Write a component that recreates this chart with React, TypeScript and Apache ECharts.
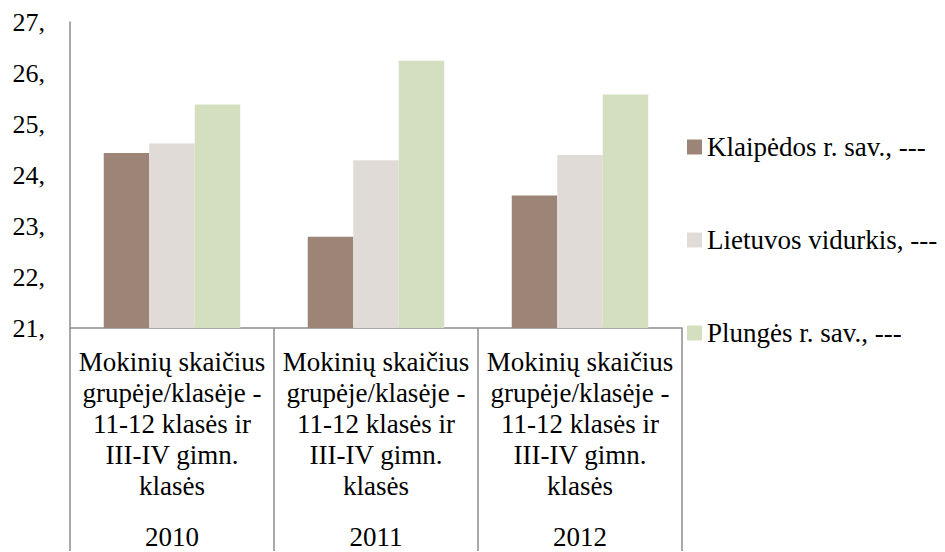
import React, { useEffect, useRef } from "react";
import * as echarts from "echarts";

const categories = ["2010", "2011", "2012"];
const categoryText = "Mokinių skaičius\ngrupėje/klasėje -\n11-12 klasės ir\nIII-IV gimn.\nklasės";
const seriesNames = ["Klaipėdos r. sav., ---", "Lietuvos vidurkis, ---", "Plungės r. sav., ---"];
const klaipeda = [24.43, 22.79, 23.6];
const lietuva = [24.62, 24.29, 24.39];
const plunge = [25.38, 26.24, 25.58];
const colors = ["#9c8577", "#e0dbd7", "#d4dfbf"];
const yMin = 21;
const yMax = 27;

const FONT = "'Liberation Serif', serif";
const AXIS = "#8c8c8c";

export default function App() {
  const ref = useRef<HTMLDivElement>(null);
  useEffect(() => {
    if (!ref.current) return;
    const chart = echarts.init(ref.current, undefined, { renderer: "svg" });
    const values = [klaipeda, lietuva, plunge];
    chart.setOption({
      animation: false,
      backgroundColor: "#ffffff",
      textStyle: { fontFamily: FONT },
      grid: { left: 70, right: 263, top: 22, bottom: 223 },
      legend: {
        orient: "vertical",
        left: 687,
        top: 132,
        padding: 0,
        itemWidth: 15,
        itemHeight: 15,
        itemGap: 63,
        icon: "rect",
        textStyle: { fontFamily: FONT, fontSize: 27, lineHeight: 30, color: "#000" },
        data: seriesNames,
      },
      xAxis: [
        {
          type: "category",
          data: categories,
          position: "bottom",
          axisLine: { show: true, lineStyle: { color: AXIS, width: 1.5 } },
          axisTick: { show: true, interval: 0, length: 223, lineStyle: { color: AXIS, width: 1.5 } },
          axisLabel: {
            interval: 0,
            margin: 18,
            fontFamily: FONT,
            fontSize: 27,
            lineHeight: 31,
            color: "#000",
            align: "center",
            formatter: () => categoryText,
          },
        },
        {
          type: "category",
          data: categories,
          position: "bottom",
          axisLine: { show: false },
          axisTick: { show: false },
          axisLabel: {
            interval: 0,
            margin: 193,
            fontFamily: FONT,
            fontSize: 27,
            lineHeight: 31,
            color: "#000",
          },
        },
      ],
      yAxis: {
        type: "value",
        min: yMin,
        max: yMax,
        interval: 1,
        axisLine: { show: true, lineStyle: { color: AXIS, width: 1.5 } },
        axisTick: { show: false },
        splitLine: { show: false },
        axisLabel: {
          margin: 25,
          fontFamily: FONT,
          fontSize: 26,
          color: "#000",
          formatter: (v: number) => `${v},`,
        },
      },
      series: seriesNames.map((name, i) => ({
        name,
        type: "bar",
        xAxisIndex: 0,
        data: values[i],
        barWidth: 45.5,
        barGap: "0%",
        itemStyle: { color: colors[i] },
      })),
    });
    return () => chart.dispose();
  }, []);
  return (
    <div
      ref={ref}
      style={{ position: "fixed", left: 0, top: 0, width: 945, height: 552 }}
    />
  );
}
